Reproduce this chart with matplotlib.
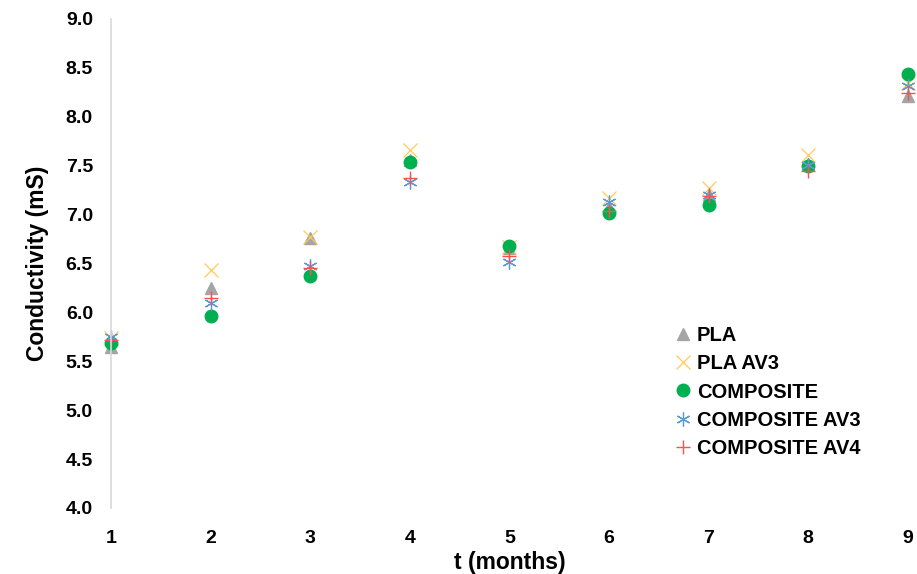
import numpy as np
import matplotlib
matplotlib.use('Agg')
import matplotlib.pyplot as plt

plt.rcParams['font.family'] = ['Liberation Sans', 'DejaVu Sans']
plt.rcParams['font.weight'] = 'bold'

# data
months = [1, 2, 3, 4, 5, 6, 7, 8, 9]
pla = [5.65, 6.25, 6.76, 7.56, 6.66, 7.08, 7.20, 7.52, 8.21]
pla_av3 = [5.74, 6.43, 6.77, 7.66, 6.67, 7.17, 7.27, 7.61, 8.34]
composite = [5.69, 5.96, 6.37, 7.54, 6.68, 7.02, 7.10, 7.50, 8.44]
composite_av3 = [5.75, 6.10, 6.47, 7.33, 6.52, 7.13, 7.20, 7.51, 8.31]
composite_av4 = [5.72, 6.15, 6.45, 7.37, 6.58, 7.04, 7.19, 7.45, 8.24]

fig = plt.figure(figsize=(9.17, 5.74), dpi=100)
ax = fig.add_axes([0.121, 0.115, 0.869, 0.852])

ax.plot(months, pla, linestyle='none', marker='^', markersize=8,
        color='#A5A5A5', label='PLA', clip_on=False)
ax.plot(months, pla_av3, linestyle='none', marker='x', markersize=10,
        markeredgewidth=0.9, color='#FFCA5A', label='PLA AV3', clip_on=False)
ax.plot(months, composite, linestyle='none', marker='o', markersize=9,
        color='#00B050', label='COMPOSITE', clip_on=False)
ax.plot(months, composite_av3, linestyle='none', marker=(6, 2, 0), markersize=10,
        markeredgewidth=0.9, color='#5B9BD5', label='COMPOSITE AV3', clip_on=False)
ax.plot(months, composite_av4, linestyle='none', marker='+', markersize=10,
        markeredgewidth=1.0, color='#FF5050', label='COMPOSITE AV4', clip_on=False)

ax.set_xlim(1, 9)
ax.set_ylim(4.0, 9.0)
ax.set_xticks(months)
ax.set_yticks(np.arange(4.0, 9.01, 0.5))
ax.set_yticklabels([f'{v:.1f}' for v in np.arange(4.0, 9.01, 0.5)])
ax.tick_params(axis='y', length=0, labelsize=14, pad=13)
ax.tick_params(axis='x', length=0, labelsize=14, pad=16)
for lab in ax.get_xticklabels() + ax.get_yticklabels():
    lab.set_fontweight('bold')

for s in ['top', 'right', 'bottom']:
    ax.spines[s].set_visible(False)
ax.spines['left'].set_color('#D9D9D9')
ax.spines['left'].set_linewidth(1.2)

ax.set_xlabel('t (months)', fontsize=16.5, fontweight='bold', labelpad=3)
ax.set_ylabel('Conductivity (mS)', fontsize=16.5, fontweight='bold', labelpad=12)

ax.legend(loc='upper left', bbox_to_anchor=(0.685, 0.41), frameon=False,
          handlelength=0.8, handletextpad=0.3, labelspacing=0.47,
          prop={'weight': 'bold', 'size': 14.5})

fig.savefig('out.png', dpi=100)
